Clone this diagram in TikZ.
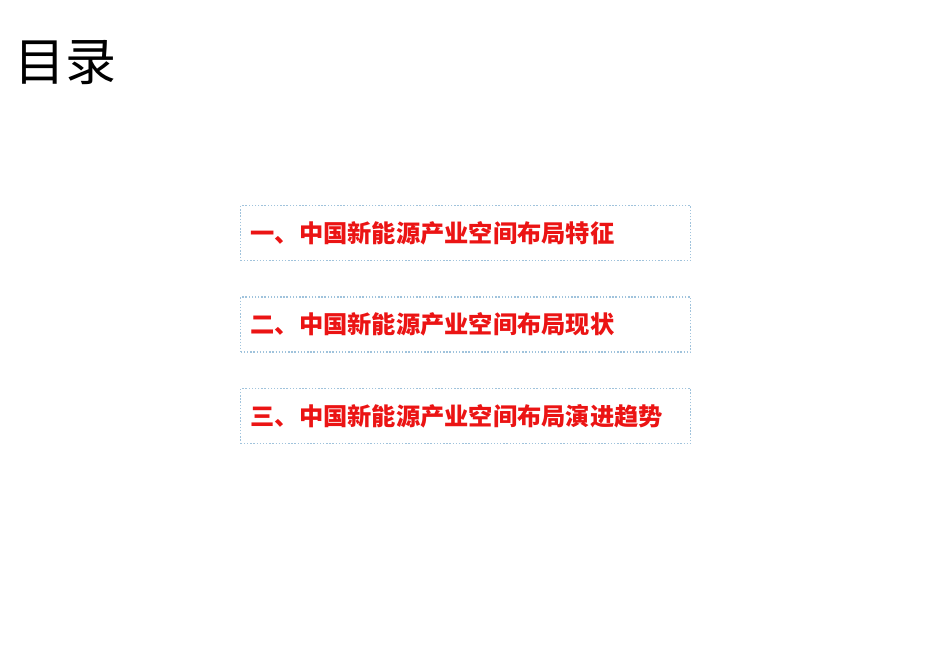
\documentclass[tikz,border=0pt]{standalone}
\usepackage{fontspec}
\newfontfamily\cjk{Noto Sans CJK SC}
\usetikzlibrary{positioning}
\definecolor{boxline}{RGB}{160,195,220}
\definecolor{itemred}{RGB}{235,20,20}
\tikzset{
    itembox/.style={draw=boxline,densely dotted,line width=0.8pt,minimum width=9cm,minimum height=1.1cm,
        anchor=north west,text=itemred,font=\cjk\bfseries\fontsize{13.8}{16}\selectfont,
        align=left,text width=8.6cm,inner xsep=0.2cm},
}
\begin{document}
\begin{tikzpicture}
    \useasboundingbox (0,0) rectangle (19,-13.16);
    % title
    \node [anchor=west,font=\cjk\fontsize{29}{32}\selectfont,inner sep=0pt] (title) at (0.28,-1.25) {目录};

    % contents
    \node [itembox] (first) at (4.8,-4.1) {一、中国新能源产业空间布局特征};
    \node [itembox,below=0.7cm of first.south west,anchor=north west] (second) {二、中国新能源产业空间布局现状};
    \node [itembox,below=0.7cm of second.south west,anchor=north west] (third) {三、中国新能源产业空间布局演进趋势};

\end{tikzpicture}
\end{document}
